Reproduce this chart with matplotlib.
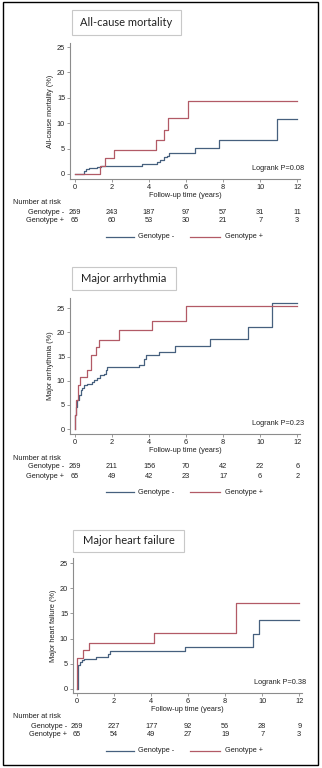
import matplotlib
matplotlib.use("Agg")
import matplotlib.pyplot as plt
from matplotlib.patches import Rectangle

# ---------------- data ----------------
GROUPS = ["Genotype -", "Genotype +"]
RISK_TIMES = [0, 2, 4, 6, 8, 10, 12]
END_T = 12

# all-cause mortality
MORT_NEG_T = [0, 0.5, 0.6, 0.75, 1.2, 1.4, 3.6, 4.45, 4.6, 4.8, 4.95, 5.05, 6.5, 7.75, 10.9]
MORT_NEG_Y = [0, 0.5, 0.9, 1.1, 1.3, 1.5, 2.0, 2.4, 2.8, 3.3, 3.6, 4.1, 5.2, 6.7, 10.8]
MORT_POS_T = [0, 1.35, 1.6, 2.1, 4.35, 4.8, 5.0, 6.1]
MORT_POS_Y = [0, 1.6, 3.2, 4.8, 6.7, 8.7, 11.0, 14.3]
MORT_RISK_NEG = [269, 243, 187, 97, 57, 31, 11]
MORT_RISK_POS = [65, 60, 53, 30, 21, 7, 3]

# major arrhythmia
ARR_NEG_T = [0, 0.02, 0.05, 0.1, 0.2, 0.3, 0.4, 0.5, 0.65, 0.9, 1.0, 1.2, 1.35, 1.55, 1.65,
             1.75, 3.45, 3.7, 3.85, 4.55, 5.4, 7.3, 9.35, 10.65]
ARR_NEG_Y = [0, 3.0, 4.5, 6.0, 7.0, 8.0, 8.6, 9.1, 9.4, 9.7, 10.2, 10.6, 11.2, 11.5, 12.2,
             12.8, 13.3, 14.5, 15.4, 16.0, 17.1, 18.7, 21.2, 26.0]
ARR_POS_T = [0, 0.02, 0.05, 0.16, 0.25, 0.67, 0.85, 1.13, 1.32, 2.35, 4.18, 5.98]
ARR_POS_Y = [0, 3.0, 6.0, 9.2, 10.8, 12.3, 15.4, 17.0, 18.5, 20.4, 22.3, 25.5]
ARR_RISK_NEG = [269, 211, 156, 70, 42, 22, 6]
ARR_RISK_POS = [65, 49, 42, 23, 17, 6, 2]

# major heart failure
HF_NEG_T = [0, 0.05, 0.15, 0.25, 0.35, 1.0, 1.65, 1.8, 5.85, 9.5, 9.85]
HF_NEG_Y = [0, 4.8, 5.3, 5.7, 6.0, 6.4, 7.0, 7.5, 8.4, 10.9, 13.7]
HF_POS_T = [0, 0.02, 0.3, 0.65, 4.15, 8.6]
HF_POS_Y = [0, 6.2, 7.7, 9.2, 11.1, 17.0]
HF_RISK_NEG = [269, 227, 177, 92, 56, 28, 9]
HF_RISK_POS = [65, 54, 49, 27, 19, 7, 3]

TITLES = ["All-cause mortality", "Major arrhythmia", "Major heart failure"]
YLABELS = ["All-cause mortality (%)", "Major arrhythmia (%)", "Major heart failure (%)"]
PVALUES = ["0.08", "0.23", "0.38"]

BLUE = "#46607e"
RED = "#b25a66"
GREY = "#8c8c8c"
FONT = "Liberation Sans"
TITLE_FONT = "Lato"

W, H = 322, 768
fig = plt.figure(figsize=(W / 100, H / 100), dpi=100)
plt.rcParams["font.family"] = FONT


def fx(px):
    return px / W


def fy(py):
    return 1 - py / H


# per panel layout in pixels: axes box, title box, ylim, xlim
PANELS = [
    dict(neg=(MORT_NEG_T, MORT_NEG_Y), pos=(MORT_POS_T, MORT_POS_Y),
         risk=(MORT_RISK_NEG, MORT_RISK_POS), ax=(70, 43, 300, 179),
         ylim=(-1.0, 25.8), xlim=(-0.27, 12.15), tbox=(72, 10, 181, 35)),
    dict(neg=(ARR_NEG_T, ARR_NEG_Y), pos=(ARR_POS_T, ARR_POS_Y),
         risk=(ARR_RISK_NEG, ARR_RISK_POS), ax=(70, 298, 300, 434),
         ylim=(-1.0, 27.1), xlim=(-0.27, 12.15), tbox=(72, 267, 176, 290)),
    dict(neg=(HF_NEG_T, HF_NEG_Y), pos=(HF_POS_T, HF_POS_Y),
         risk=(HF_RISK_NEG, HF_RISK_POS), ax=(73, 558, 302, 693),
         ylim=(-0.8, 26.0), xlim=(-0.22, 12.15), tbox=(73, 530, 184, 552)),
]

for i, p in enumerate(PANELS):
    l, t, r, b = p["ax"]
    ax = fig.add_axes([fx(l), fy(b), fx(r) - fx(l), (b - t) / H])
    for (tt, yy), c in [(p["neg"], BLUE), (p["pos"], RED)]:
        ax.step(list(tt) + [END_T], list(yy) + [yy[-1]], where="post", color=c, lw=0.9)
    ax.set_xlim(*p["xlim"])
    ax.set_ylim(*p["ylim"])
    ax.set_xticks(RISK_TIMES)
    ax.set_yticks([0, 5, 10, 15, 20, 25])
    for s in ["top", "right"]:
        ax.spines[s].set_visible(False)
    for s in ["left", "bottom"]:
        ax.spines[s].set_color(GREY)
        ax.spines[s].set_linewidth(0.8)
    ax.tick_params(length=2, width=0.6, color=GREY, labelsize=5.3, pad=1.5,
                   labelcolor="#222222")
    ax.set_ylabel(YLABELS[i], fontsize=5.3, labelpad=2, color="#222222")
    ax.set_xlabel("Follow-up time (years)", fontsize=5.3, labelpad=0.5, color="#222222")
    ax.text(1.02, 0.08, f"Logrank P={PVALUES[i]}", transform=ax.transAxes,
            ha="right", va="center", fontsize=5.3, color="#222222", clip_on=False)

    # title box
    bl, bt, br, bb = p["tbox"]
    fig.patches.append(Rectangle((fx(bl), fy(bb)), fx(br) - fx(bl), (bb - bt) / H,
                                 transform=fig.transFigure, fill=False,
                                 edgecolor="#c8c8c8", lw=0.8))
    fig.text(fx((bl + br) / 2), fy((bt + bb) / 2), TITLES[i], ha="center", va="center",
             fontsize=8, family=TITLE_FONT, color="#222222")

    # number at risk table
    base = b + 24
    fig.text(fx(13), fy(base), "Number at risk", ha="left", va="center", fontsize=5.3,
             color="#222222")
    for j, (g, row) in enumerate(zip(GROUPS, p["risk"])):
        yrow = fy(base + 9 * (j + 1))
        fig.text(fx(l - 6), yrow, g, ha="right", va="center", fontsize=5.3, color="#222222")
        for tv, n in zip(RISK_TIMES, row):
            xd = ax.transData.transform((tv, 0))[0]
            fig.text(xd / W, yrow, str(n), ha="center", va="center", fontsize=5.3,
                     color="#222222")

    # legend
    yl = fy(b + 58)
    fig.add_artist(plt.Line2D([fx(106), fx(134)], [yl, yl], color=BLUE, lw=0.9,
                              transform=fig.transFigure))
    fig.text(fx(138), yl, GROUPS[0], ha="left", va="center", fontsize=5.3, color="#222222")
    fig.add_artist(plt.Line2D([fx(190), fx(220)], [yl, yl], color=RED, lw=0.9,
                              transform=fig.transFigure))
    fig.text(fx(225), yl, GROUPS[1], ha="left", va="center", fontsize=5.3, color="#222222")

# outer frame
fig.patches.append(Rectangle((fx(3), fy(765)), fx(315), 763 / H, transform=fig.transFigure,
                             fill=False, edgecolor="black", lw=1.0))

fig.savefig("out.png", dpi=100)
